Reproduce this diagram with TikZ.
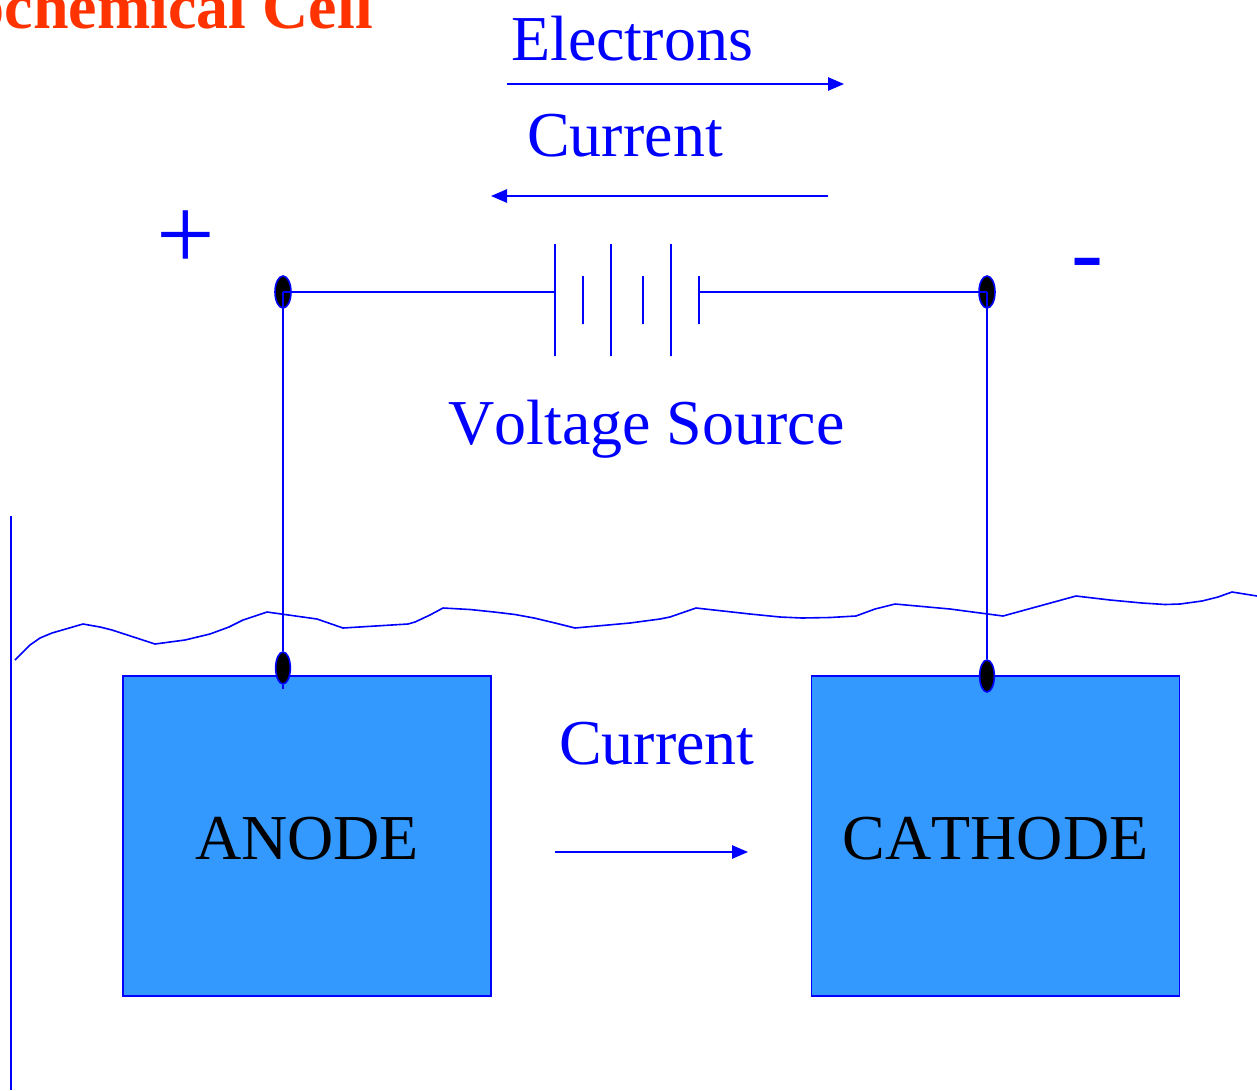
\documentclass[tikz,border=0pt]{standalone}
\usepackage{fontspec}
\setmainfont[Kerning=Off]{Liberation Serif}
\usetikzlibrary{arrows.meta,shapes.geometric}
\definecolor{CellBlue}{RGB}{0,0,255}
\definecolor{ElectrodeFill}{RGB}{51,153,255}
\definecolor{TitleRed}{RGB}{255,51,0}

\begin{document}
\begin{tikzpicture}[
  x=0.75pt, y=-0.75pt,
  font=\fontsize{48}{54}\selectfont,
  >={Triangle[length=12pt,width=10pt]},
  wire/.style={line width=1.2pt, CellBlue},
  arr/.style={->, line width=1.2pt, CellBlue},
  lbl/.style={text=CellBlue, anchor=base west, inner sep=0pt},
  sgn/.style={text=CellBlue, anchor=base, inner sep=0pt, font=\fontsize{72}{80}\selectfont},
  ttl/.style={text=TitleRed, anchor=base east, inner sep=0pt, font=\fontsize{48}{54}\selectfont\bfseries},
  electrode/.style={draw=CellBlue, line width=1.2pt, fill=ElectrodeFill, text=black,
                    minimum width=276pt, minimum height=240pt, inner sep=0pt,
                    text height=34.5pt, text depth=0pt},
  terminal/.style={ellipse, draw=CellBlue, line width=1.2pt, fill=black, inner sep=0pt,
                   minimum width=12pt, minimum height=24pt},
  plate/.style={rectangle, draw=CellBlue, line width=1.2pt, inner sep=0pt, minimum width=0pt},
  longplate/.style={plate, minimum height=84pt},
  shortplate/.style={plate, minimum height=36pt},
]
\useasboundingbox (0,0) rectangle (1257,1090);
\clip (0,0) rectangle (1257,1090);

% ============ TITLE ============
\node[ttl] (title) at (373,28.5) {ochemical Cell};

% ============ DIRECTION LABELS (top) ============
\node[lbl] (electrons) at (511,60) {Electrons};
\coordinate (eleft) at (507,84);
\coordinate (eright) at (844,84);
\draw[arr] (eleft) -- (eright);
\node[lbl] (currenttop) at (527,156) {Current};
\coordinate (cright) at (828,196);
\coordinate (cleft) at (491,196);
\draw[arr] (cright) -- (cleft);

% ============ VOLTAGE SOURCE ============
\foreach \i/\x/\kind in {1/555/longplate,2/583/shortplate,3/611/longplate,
                         4/643/shortplate,5/671/longplate,6/699/shortplate}
  \node[\kind] (plate\i) at (\x,300) {};
\node[lbl] (source) at (448,444) {Voltage Source};
\node[sgn, font=\fontsize{78}{84}\selectfont] (plus) at (186,269) {+};
\node[sgn] (minus) at (1087,284) {-};

% terminals
\node[terminal] (pdot) at (283,292) {};
\node[terminal] (ndot) at (987,292) {};

% ============ ELECTRODES ============
\node[electrode] (anode) at (307,836) {ANODE};
\node[electrode] (cathode) at (995.5,836) {CATHODE};
\node[terminal, minimum width=11pt] (adot) at (283,668) {};
\node[terminal, minimum width=11pt] (cdot) at (987,676) {};

% wires run over the terminals
\coordinate (atail) at (283,689);
\draw[wire] (pdot.center) -- (pdot.center -| plate1.center);
\draw[wire] (ndot.center) -- (ndot.center -| plate6.center);
\draw[wire] (pdot.center) -- (adot.north) (adot.south) -- (atail);
\draw[wire] (ndot.center) -- (cdot.north);

% ============ CURRENT IN THE SOLUTION ============
\node[lbl] (currentlow) at (559,764) {Current};
\coordinate (sleft) at (555,852);
\coordinate (sright) at (748,852);
\draw[arr] (sleft) -- (sright);

% ============ CONTAINER AND LIQUID LEVEL ============
\coordinate (walltop) at (11,516);
\coordinate (wallend) at (11,1090);
\draw[wire] (walltop) -- (wallend);
\draw[wire, line join=round] (15,660) -- (30,645) -- (40,638) -- (52,633) -- (83,624) -- (100,627)
  -- (112,630) -- (155,644) -- (185,640) -- (210,634) -- (229,627) -- (243,620) -- (267,612)
  -- (317,619) -- (343,628) -- (408,624) -- (415,622) -- (430,615) -- (443,608) -- (470,609.5)
  -- (494,612) -- (515,614.5) -- (534,618) -- (555,623) -- (575,628) -- (630,623) -- (660,619)
  -- (670,617) -- (696,608) -- (750,614) -- (780,617) -- (802,618) -- (830,617.5) -- (856,616)
  -- (875,609) -- (895,604) -- (950,609) -- (1003,616) -- (1076,596) -- (1110,600) -- (1142,603)
  -- (1165,604.5) -- (1180,604) -- (1202,601) -- (1218,597) -- (1232,592) -- (1257,596);

\end{tikzpicture}
\end{document}
